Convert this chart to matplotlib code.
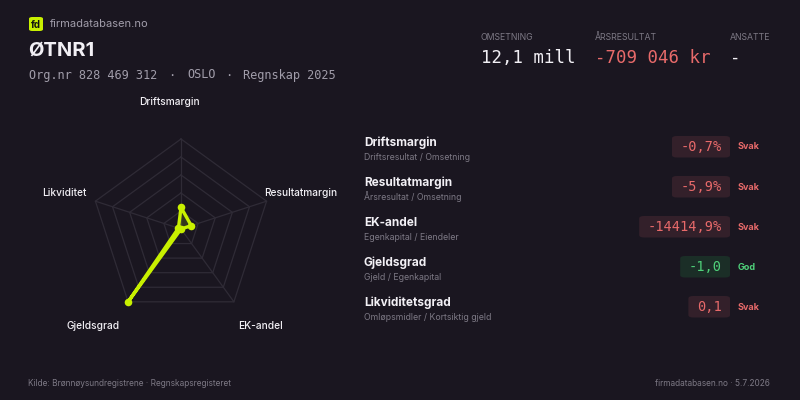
import numpy as np
import matplotlib
matplotlib.use("Agg")
import matplotlib.pyplot as plt
from matplotlib.patches import FancyBboxPatch

# ---------------- data ----------------
company = "ØTNR1"
subtitle_parts = ["Org.nr 828 469 312", "·", "OSLO", "·", "Regnskap 2025"]
kpi_labels = ["OMSETNING", "ÅRSRESULTAT", "ANSATTE"]
kpi_values = ["12,1 mill", "-709 046 kr", "-"]
kpi_negative = [False, True, False]

radar_labels = ["Driftsmargin", "Resultatmargin", "EK-andel", "Gjeldsgrad", "Likviditet"]
radar_values = [0.24, 0.12, 0.0, 1.0, 0.03]

row_titles = ["Driftsmargin", "Resultatmargin", "EK-andel", "Gjeldsgrad", "Likviditetsgrad"]
row_subtitles = ["Driftsresultat / Omsetning", "Årsresultat / Omsetning",
                 "Egenkapital / Eiendeler", "Gjeld / Egenkapital",
                 "Omløpsmidler / Kortsiktig gjeld"]
row_values = ["-0,7%", "-5,9%", "-14414,9%", "-1,0", "0,1"]
row_status = ["Svak", "Svak", "Svak", "God", "Svak"]

# ---------------- style ----------------
BG = "#1a1620"
LIME = "#c8f000"
WHITE = "#f2f0f5"
GRAY = "#a19daa"
DIM = "#7d7985"
RED = "#e86a6a"
RED_BG = "#33202a"
GREEN = "#4fd17a"
GREEN_BG = "#1b2e27"
GRID = "#2f2b36"
SANS = ["Inter", "DejaVu Sans"]
MONO = ["DejaVu Sans Mono"]

W, H = 800, 400
fig = plt.figure(figsize=(8, 4), dpi=100, facecolor=BG)


def fx(x):
    return x / W


def fy(y):
    return 1 - y / H


# ---------------- header ----------------
logo = FancyBboxPatch((fx(29), fy(31)), 14 / W, 14 / H,
                      boxstyle="round,pad=0,rounding_size=0.004",
                      transform=fig.transFigure, facecolor=LIME, edgecolor="none")
fig.patches.append(logo)
fig.text(fx(36), fy(24.5), "fd", ha="center", va="center", fontsize=7,
         color="#111111", family=SANS, fontweight="bold")
fig.text(fx(50), fy(24), "firmadatabasen.no", ha="left", va="center",
         fontsize=8, color=GRAY, family=SANS)
fig.text(fx(28), fy(51), company, ha="left", va="center", fontsize=14.5,
         color=WHITE, family=SANS, fontweight="bold")
sub_x = [29, 168.5, 187, 225, 243]
for x, part in zip(sub_x, subtitle_parts):
    fig.text(fx(x), fy(75), part, ha="left", va="center", fontsize=8.6,
             color=GRAY, family=MONO)

kpi_x = [481, 595, 730]
for x, lab, val, neg in zip(kpi_x, kpi_labels, kpi_values, kpi_negative):
    fig.text(fx(x), fy(38), lab, ha="left", va="center", fontsize=6.3,
             color=DIM, family=SANS)
    fig.text(fx(x), fy(58), val, ha="left", va="center", fontsize=12.5,
             color=RED if neg else WHITE, family=MONO)

# ---------------- radar ----------------
cx, cy, R = 181, 229, 90
half = 150
ax = fig.add_axes([fx(cx - half), fy(cy + half), 2 * half / W, 2 * half / H])
ax.set_xlim(-half / R, half / R)
ax.set_ylim(-half / R, half / R)
ax.set_facecolor("none")
ax.axis("off")

n = len(radar_labels)
ang = np.deg2rad(90 - 72 * np.arange(n))
for lvl in [0.2, 0.4, 0.6, 0.8, 1.0]:
    xs = np.append(lvl * np.cos(ang), lvl * np.cos(ang[0]))
    ys = np.append(lvl * np.sin(ang), lvl * np.sin(ang[0]))
    ax.plot(xs, ys, color=GRID, lw=0.9, zorder=1)
for a in ang:
    ax.plot([0, np.cos(a)], [0, np.sin(a)], color=GRID, lw=0.9, zorder=1)

vals = np.array(radar_values)
px = vals * np.cos(ang)
py = vals * np.sin(ang)
ax.fill(np.append(px, px[0]), np.append(py, py[0]), color=LIME, alpha=0.15,
        zorder=2, lw=0)
ax.plot(np.append(px, px[0]), np.append(py, py[0]), color=LIME, lw=2.4,
        zorder=3, solid_joinstyle="round")
ax.scatter(px, py, s=30, color=LIME, zorder=4, lw=0)

label_pos = [(-0.13, 1.41, "center"), (0.92, 0.40, "left"), (0.88, -1.08, "center"),
             (-0.98, -1.08, "center"), (-1.055, 0.40, "right")]
for lab, (lx, ly, ha) in zip(radar_labels, label_pos):
    ax.text(lx, ly, lab, ha=ha, va="center", fontsize=7.3, color=WHITE,
            family=SANS, fontweight="medium")

# ---------------- ratio table ----------------
row0 = 143
step = 40
for i, (t, s, v, st) in enumerate(zip(row_titles, row_subtitles, row_values, row_status)):
    y = row0 + i * step
    fig.text(fx(364), fy(y), t, ha="left", va="center", fontsize=8.5,
             color=WHITE, family=SANS, fontweight="bold")
    fig.text(fx(364), fy(y + 14), s, ha="left", va="center", fontsize=6.3,
             color=DIM, family=SANS)
    good = st == "God"
    fg = GREEN if good else RED
    bg = GREEN_BG if good else RED_BG
    bw = 8.2 * len(v) + 17
    right = 730
    box = FancyBboxPatch((fx(right - bw), fy(y + 14.5)), bw / W, 21.5 / H,
                         boxstyle="round,pad=0,rounding_size=0.006",
                         transform=fig.transFigure, facecolor=bg, edgecolor="none")
    fig.patches.append(box)
    fig.text(fx(right - 8), fy(y + 4), v, ha="right", va="center", fontsize=9.8,
             color=fg, family=MONO)
    fig.text(fx(738), fy(y + 4), st, ha="left", va="center", fontsize=6.5,
             color=fg, family=SANS, fontweight="bold")

# ---------------- footer ----------------
fig.text(fx(28), fy(383), "Kilde: Brønnøysundregistrene · Regnskapsregisteret",
         ha="left", va="center", fontsize=6, color=DIM, family=SANS)
fig.text(fx(770), fy(383), "firmadatabasen.no · 5.7.2026",
         ha="right", va="center", fontsize=6, color=DIM, family=SANS)

fig.savefig("out.png", dpi=100, facecolor=BG)
